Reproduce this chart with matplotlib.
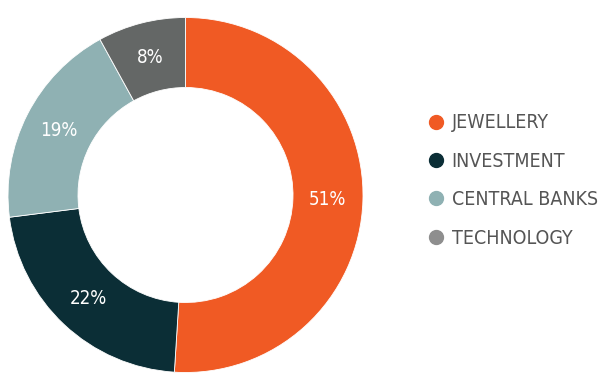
import matplotlib
matplotlib.use("Agg")
import matplotlib.pyplot as plt
from matplotlib.lines import Line2D

categories = ["JEWELLERY", "INVESTMENT", "CENTRAL BANKS", "TECHNOLOGY"]
values = [51, 22, 19, 8]
labels = ["51%", "22%", "19%", "8%"]
colors = ["#F05A24", "#0B2E36", "#8FB1B3", "#646766"]
legend_colors = ["#F05A24", "#0B2E36", "#8FB1B3", "#8E8E8E"]

FONT = ["DejaVu Sans"]

W, H = 605, 392
fig = plt.figure(figsize=(W / 100, H / 100), dpi=100)
cx, cy, R = 185.5, 195, 177.5
ax = fig.add_axes([(cx - R) / W, (H - cy - R) / H, 2 * R / W, 2 * R / H])

wedges, texts = ax.pie(values, colors=colors, startangle=90, counterclock=False,
                       radius=1, labels=labels, labeldistance=0.80,
                       wedgeprops=dict(width=70 / 177.5, edgecolor="white", linewidth=0.6),
                       textprops=dict(color="white", fontsize=13.5, family=FONT,
                                      stretch="condensed"))
for t in texts:
    t.set_ha("center")
    t.set_va("center")
ax.set_xlim(-1, 1)
ax.set_ylim(-1, 1)
ax.set_aspect("equal")
ax.axis("off")

handles = [Line2D([], [], marker="o", linestyle="", markersize=10,
                  markerfacecolor=c, markeredgecolor=c) for c in legend_colors]
fig.legend(handles, categories, loc="center left",
           bbox_to_anchor=(407 / W, 1 - 180.5 / H), frameon=False,
           handletextpad=0.2, labelspacing=1.0, handlelength=1.2,
           prop=dict(family=FONT, size=14, stretch="condensed"),
           labelcolor="#555555")

fig.savefig("out.png", dpi=100)
